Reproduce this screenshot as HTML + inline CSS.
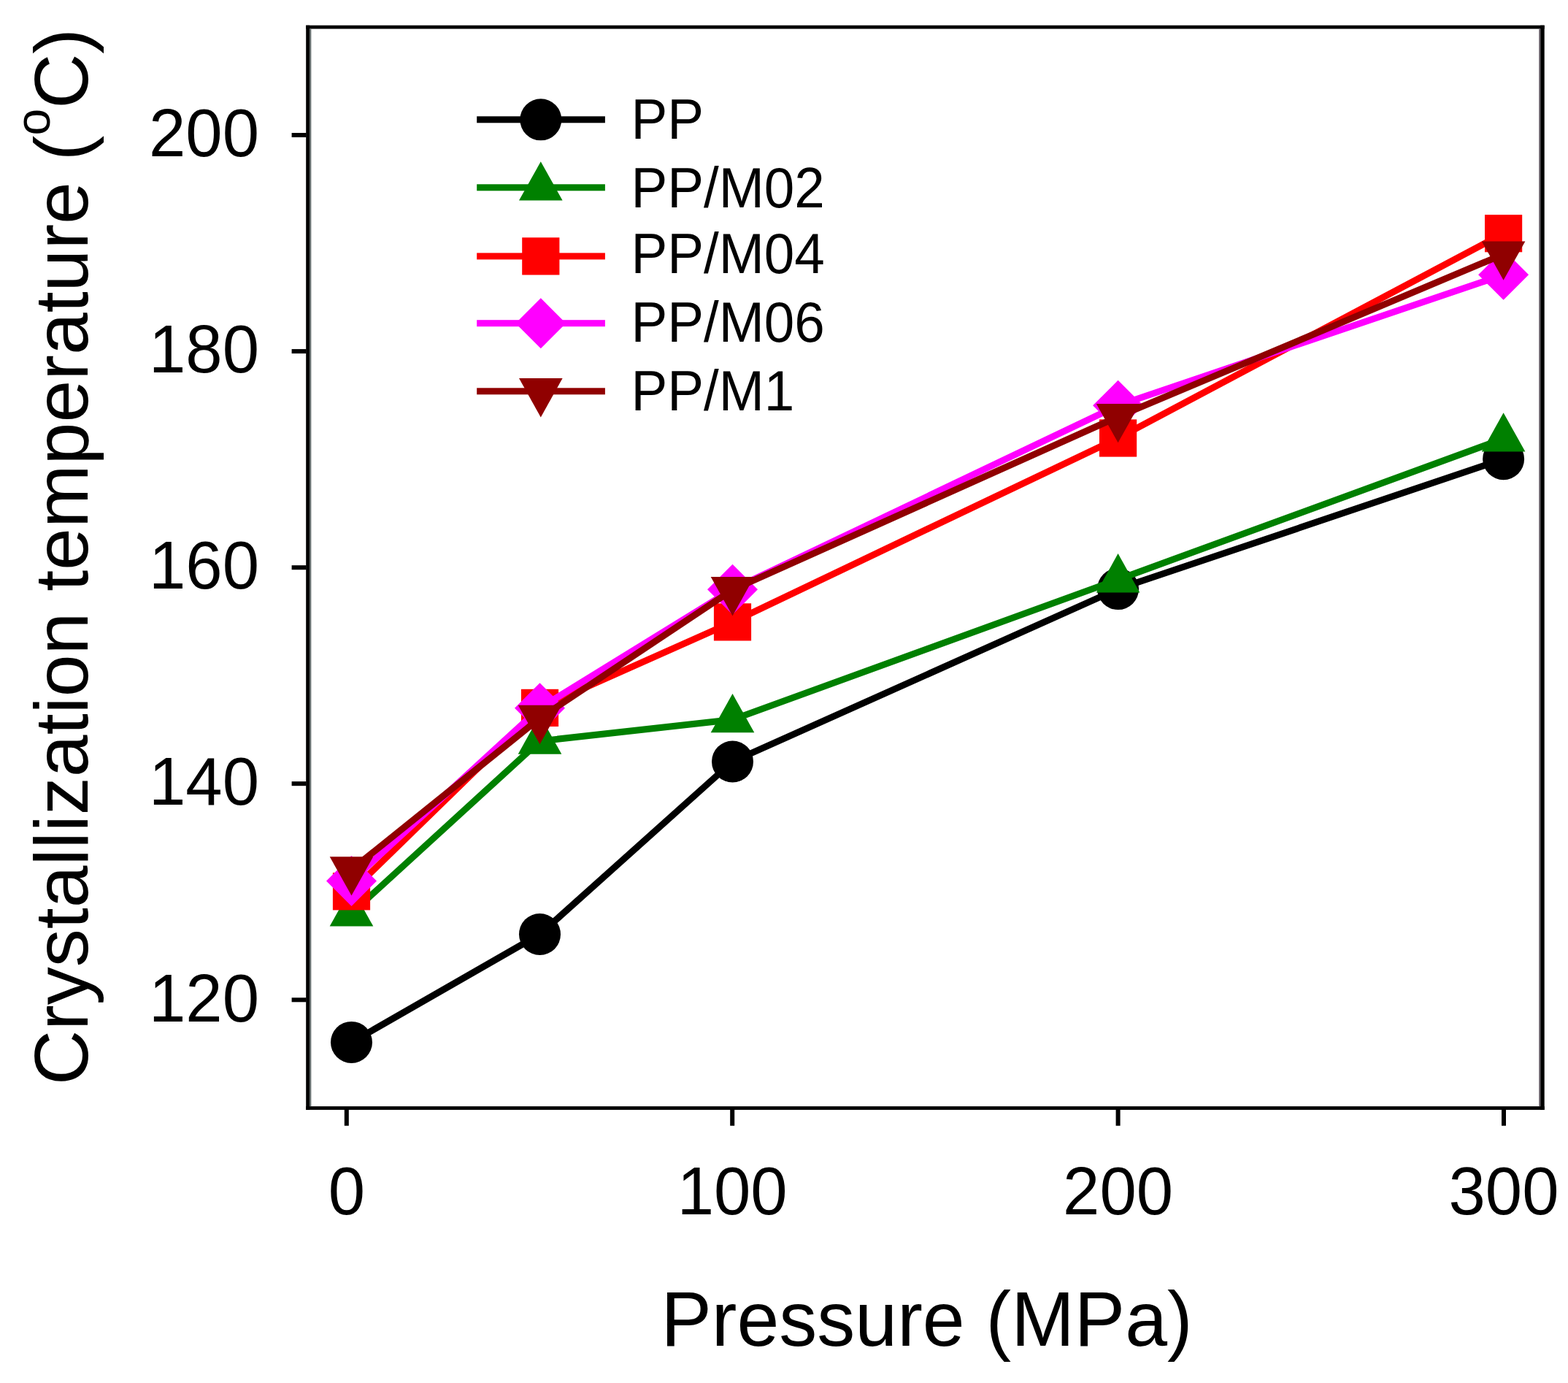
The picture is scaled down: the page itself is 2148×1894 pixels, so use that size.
<!DOCTYPE html>
<html><head><meta charset="utf-8"><title>Crystallization temperature vs Pressure</title>
<style>html,body{margin:0;padding:0;background:#fff;overflow:hidden;}svg{display:block;}</style></head>
<body>
<svg width="2148" height="1894" viewBox="0 0 2148 1894" font-family="'Liberation Sans', Arial, Helvetica, sans-serif">
<g fill="#000">
<rect x="419.2" y="34.7" width="1696.5" height="4.8"/>
<rect x="419.2" y="1515.1" width="1696.5" height="4.8"/>
<rect x="419.2" y="34.7" width="4.9" height="1485.2"/>
<rect x="2110.2" y="34.7" width="5.5" height="1485.2"/>
</g>
<rect x="424.1" y="39.5" width="2.2" height="1475.6" fill="#5f6868"/>
<rect x="2108.3" y="39.5" width="1.9" height="1475.6" fill="#5f5660"/>
<rect x="399.6" y="1366.3" width="20" height="6" fill="#000"/>
<text transform="translate(355.0,1398.5) scale(1,1.03)" font-size="90.5" text-anchor="end">120</text>
<rect x="399.6" y="1070.2" width="20" height="6" fill="#000"/>
<text transform="translate(355.0,1102.4) scale(1,1.03)" font-size="90.5" text-anchor="end">140</text>
<rect x="399.6" y="774.2" width="20" height="6" fill="#000"/>
<text transform="translate(355.0,806.4) scale(1,1.03)" font-size="90.5" text-anchor="end">160</text>
<rect x="399.6" y="478.1" width="20" height="6" fill="#000"/>
<text transform="translate(355.0,510.3) scale(1,1.03)" font-size="90.5" text-anchor="end">180</text>
<rect x="399.6" y="182.0" width="20" height="6" fill="#000"/>
<text transform="translate(355.0,214.2) scale(1,1.03)" font-size="90.5" text-anchor="end">200</text>
<rect x="471.8" y="1519" width="6" height="22.7" fill="#000"/>
<text transform="translate(474.8,1662.8) scale(1,1.03)" font-size="90.5" text-anchor="middle">0</text>
<rect x="1000.2" y="1519" width="6" height="22.7" fill="#000"/>
<text transform="translate(1003.2,1662.8) scale(1,1.03)" font-size="90.5" text-anchor="middle">100</text>
<rect x="1528.6" y="1519" width="6" height="22.7" fill="#000"/>
<text transform="translate(1531.6,1662.8) scale(1,1.03)" font-size="90.5" text-anchor="middle">200</text>
<rect x="2057.0" y="1519" width="6" height="22.7" fill="#000"/>
<text transform="translate(2060.0,1662.8) scale(1,1.03)" font-size="90.5" text-anchor="middle">300</text>
<polyline points="481.5,1427.4 739.5,1279.5 1003.5,1043.0 1531.6,806.6 2059.6,628.7" fill="none" stroke="#000000" stroke-width="9" stroke-linejoin="round"/>
<circle cx="481.5" cy="1427.4" r="28.5" fill="#000000"/>
<circle cx="739.5" cy="1279.5" r="28.5" fill="#000000"/>
<circle cx="1003.5" cy="1043.0" r="28.5" fill="#000000"/>
<circle cx="1531.6" cy="806.6" r="28.5" fill="#000000"/>
<circle cx="2059.6" cy="628.7" r="28.5" fill="#000000"/>
<polyline points="481.5,1250.7 739.5,1014.9 1003.5,985.5 1531.6,793.7 2059.6,600.8" fill="none" stroke="#008000" stroke-width="9" stroke-linejoin="round"/>
<polygon points="481.5,1215.1 511.3,1268.5 451.7,1268.5" fill="#008000"/>
<polygon points="739.5,979.3 769.3,1032.7 709.7,1032.7" fill="#008000"/>
<polygon points="1003.5,949.9 1033.3,1003.3 973.7,1003.3" fill="#008000"/>
<polygon points="1531.6,758.1 1561.4,811.5 1501.8,811.5" fill="#008000"/>
<polygon points="2059.6,565.2 2089.4,618.6 2029.8,618.6" fill="#008000"/>
<polyline points="481.5,1220.8 739.5,969.4 1003.5,851.9 1531.6,600.0 2059.6,319.7" fill="none" stroke="#ff0000" stroke-width="9" stroke-linejoin="round"/>
<rect x="455.9" y="1195.2" width="51.2" height="51.2" fill="#ff0000"/>
<rect x="713.9" y="943.8" width="51.2" height="51.2" fill="#ff0000"/>
<rect x="977.9" y="826.3" width="51.2" height="51.2" fill="#ff0000"/>
<rect x="1506.0" y="574.4" width="51.2" height="51.2" fill="#ff0000"/>
<rect x="2034.0" y="294.1" width="51.2" height="51.2" fill="#ff0000"/>
<polyline points="481.5,1206.5 739.5,969.7 1003.5,807.2 1531.6,555.3 2059.6,376.3" fill="none" stroke="#ff00ff" stroke-width="9" stroke-linejoin="round"/>
<polygon points="481.5,1172.0 516.0,1206.5 481.5,1241.0 447.0,1206.5" fill="#ff00ff"/>
<polygon points="739.5,935.2 774.0,969.7 739.5,1004.2 705.0,969.7" fill="#ff00ff"/>
<polygon points="1003.5,772.7 1038.0,807.2 1003.5,841.7 969.0,807.2" fill="#ff00ff"/>
<polygon points="1531.6,520.8 1566.1,555.3 1531.6,589.8 1497.1,555.3" fill="#ff00ff"/>
<polygon points="2059.6,341.8 2094.1,376.3 2059.6,410.8 2025.1,376.3" fill="#ff00ff"/>
<polyline points="481.5,1191.0 739.5,983.6 1003.5,807.8 1531.6,570.7 2059.6,348.2" fill="none" stroke="#900000" stroke-width="9" stroke-linejoin="round"/>
<polygon points="481.5,1226.6 511.3,1173.2 451.7,1173.2" fill="#900000"/>
<polygon points="739.5,1019.2 769.3,965.8 709.7,965.8" fill="#900000"/>
<polygon points="1003.5,843.4 1033.3,790.0 973.7,790.0" fill="#900000"/>
<polygon points="1531.6,606.3 1561.4,552.9 1501.8,552.9" fill="#900000"/>
<polygon points="2059.6,383.8 2089.4,330.4 2029.8,330.4" fill="#900000"/>
<rect x="653.2" y="159.3" width="175.7" height="9" fill="#000000"/>
<circle cx="740.8" cy="163.8" r="28.5" fill="#000000"/>
<text transform="translate(864.5,189.5) scale(1,1.04)" font-size="74.6">PP</text>
<rect x="653.2" y="252.3" width="175.7" height="9" fill="#008000"/>
<polygon points="740.8,221.2 770.6,274.6 711.0,274.6" fill="#008000"/>
<text transform="translate(864.5,283.7) scale(1,1.04)" font-size="74.6">PP/M02</text>
<rect x="653.2" y="346.4" width="175.7" height="9" fill="#ff0000"/>
<rect x="715.2" y="325.3" width="51.2" height="51.2" fill="#ff0000"/>
<text transform="translate(864.5,373.8) scale(1,1.04)" font-size="74.6">PP/M04</text>
<rect x="653.2" y="438.2" width="175.7" height="9" fill="#ff00ff"/>
<polygon points="740.8,408.2 775.3,442.7 740.8,477.2 706.3,442.7" fill="#ff00ff"/>
<text transform="translate(864.5,467.8) scale(1,1.04)" font-size="74.6">PP/M06</text>
<rect x="653.2" y="531.3" width="175.7" height="9" fill="#900000"/>
<polygon points="740.8,571.4 770.6,518.0 711.0,518.0" fill="#900000"/>
<text transform="translate(864.5,561.8) scale(1,1.04)" font-size="74.6">PP/M1</text>
<text transform="translate(905.5,1842.7) scale(1,1.01)" font-size="104">Pressure (MPa)</text>
<text transform="translate(119.8,1486) rotate(-90) scale(1,1.0)" font-size="104">Crystallization temperature (<tspan font-size="66" dy="-52">o</tspan><tspan dy="52">C)</tspan></text>
</svg>
</body></html>
